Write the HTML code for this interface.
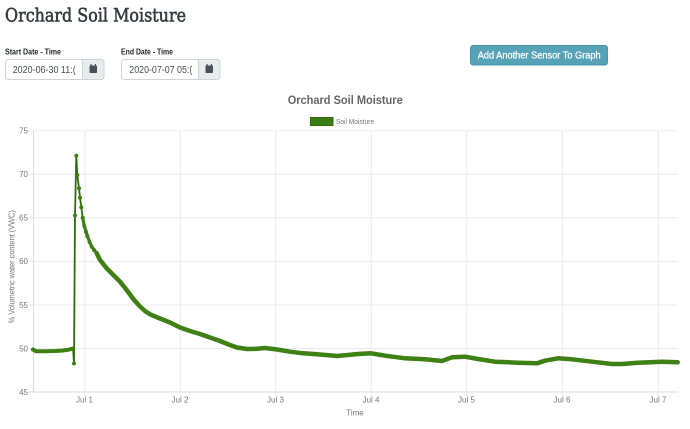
<!DOCTYPE html>
<html><head><meta charset="utf-8"><style>
html,body{margin:0;padding:0;background:#fff;}
svg{display:block;}
</style></head><body>
<svg width="690" height="429" viewBox="0 0 690 429" xmlns="http://www.w3.org/2000/svg">
<rect width="690" height="429" fill="#fff"/>
<!-- header -->
<text x="5" y="21.5" font-family="DejaVu Serif, Liberation Serif, serif" font-size="19" fill="#343a40" stroke="#343a40" stroke-width="0.6" textLength="181" lengthAdjust="spacingAndGlyphs">Orchard Soil Moisture</text>
<text x="5" y="54.5" font-family="Liberation Sans, sans-serif" font-size="8" font-weight="bold" fill="#212529" textLength="56" lengthAdjust="spacingAndGlyphs">Start Date - Time</text>
<text x="121" y="54.5" font-family="Liberation Sans, sans-serif" font-size="8" font-weight="bold" fill="#212529" textLength="52" lengthAdjust="spacingAndGlyphs">End Date - Time</text>
<!-- input 1 -->
<rect x="5.5" y="59.5" width="98.5" height="20" rx="3" fill="#fff" stroke="#ced4da"/>
<path d="M82.5 59.5 H101 a3 3 0 0 1 3 3 V76.5 a3 3 0 0 1 -3 3 H82.5 Z" fill="#e9ecef" stroke="#ced4da"/>
<text x="12.7" y="73" font-family="Liberation Sans, sans-serif" font-size="10" fill="#495057" textLength="63" lengthAdjust="spacingAndGlyphs">2020-06-30 11:(</text>
<g fill="#495057"><rect x="89.5" y="65.5" width="7.5" height="7.5" rx="0.8"/><rect x="90.5" y="64" width="1.2" height="2.5"/><rect x="94.8" y="64" width="1.2" height="2.5"/></g>
<!-- input 2 -->
<rect x="121.5" y="59.5" width="98.5" height="20" rx="3" fill="#fff" stroke="#ced4da"/>
<path d="M198.5 59.5 H217 a3 3 0 0 1 3 3 V76.5 a3 3 0 0 1 -3 3 H198.5 Z" fill="#e9ecef" stroke="#ced4da"/>
<text x="129.3" y="73" font-family="Liberation Sans, sans-serif" font-size="10" fill="#495057" textLength="63" lengthAdjust="spacingAndGlyphs">2020-07-07 05:(</text>
<g fill="#495057"><rect x="205.5" y="65.5" width="7.5" height="7.5" rx="0.8"/><rect x="206.5" y="64" width="1.2" height="2.5"/><rect x="210.8" y="64" width="1.2" height="2.5"/></g>
<!-- button -->
<rect x="470.5" y="45.5" width="137" height="19.5" rx="2.5" fill="#56a2b6" stroke="#4a94a8"/>
<text x="477.7" y="58.5" font-family="Liberation Sans, sans-serif" font-size="10.5" fill="#fff" stroke="#fff" stroke-width="0.25" textLength="123" lengthAdjust="spacingAndGlyphs">Add Another Sensor To Graph</text>

<!-- chart title -->
<text x="287.7" y="104" font-family="Liberation Sans, sans-serif" font-size="12" font-weight="bold" fill="#666" textLength="115" lengthAdjust="spacingAndGlyphs">Orchard Soil Moisture</text>
<!-- legend -->
<rect x="310.5" y="117.5" width="22.5" height="8" fill="#3b7d14" stroke="#2f6a0e" stroke-width="1"/>
<text x="336" y="124" font-family="Liberation Sans, sans-serif" font-size="7.5" fill="#777" textLength="38" lengthAdjust="spacingAndGlyphs">Soil Moisture</text>

<!-- grid -->
<g stroke="#ebebeb" stroke-width="1" fill="none">
<line x1="29" y1="130.7" x2="678" y2="130.7"/>
<line x1="29" y1="174.3" x2="678" y2="174.3"/>
<line x1="29" y1="217.9" x2="678" y2="217.9"/>
<line x1="29" y1="261.4" x2="678" y2="261.4"/>
<line x1="29" y1="305" x2="678" y2="305"/>
<line x1="29" y1="348.5" x2="678" y2="348.5"/>
<line x1="85" y1="130.7" x2="85" y2="396"/>
<line x1="180.3" y1="130.7" x2="180.3" y2="396"/>
<line x1="275.7" y1="130.7" x2="275.7" y2="396"/>
<line x1="371.3" y1="130.7" x2="371.3" y2="396"/>
<line x1="466.7" y1="130.7" x2="466.7" y2="396"/>
<line x1="562.3" y1="130.7" x2="562.3" y2="396"/>
<line x1="658.3" y1="130.7" x2="658.3" y2="396"/>
</g>
<g stroke="#dcdcdc" stroke-width="1">
<line x1="33.5" y1="130.7" x2="33.5" y2="392"/>
<line x1="29" y1="392" x2="678" y2="392"/>
</g>

<!-- y ticks -->
<g font-family="Liberation Sans, sans-serif" font-size="8" fill="#777" text-anchor="end">
<text x="28" y="133.5">75</text>
<text x="28" y="177">70</text>
<text x="28" y="220.7">65</text>
<text x="28" y="264.2">60</text>
<text x="28" y="307.8">55</text>
<text x="28" y="351.3">50</text>
<text x="28" y="394.8">45</text>
</g>
<text transform="translate(14.5,266.7) rotate(-90)" text-anchor="middle" font-family="Liberation Sans, sans-serif" font-size="7.8" fill="#777" textLength="113" lengthAdjust="spacingAndGlyphs">% Volumetric water content (VWC)</text>
<!-- x ticks -->
<g font-family="Liberation Sans, sans-serif" font-size="8" fill="#777" text-anchor="middle">
<text x="84.5" y="402.5">Jul 1</text>
<text x="180" y="402.5">Jul 2</text>
<text x="275.5" y="402.5">Jul 3</text>
<text x="371" y="402.5">Jul 4</text>
<text x="466.5" y="402.5">Jul 5</text>
<text x="562" y="402.5">Jul 6</text>
<text x="658" y="402.5">Jul 7</text>
</g>
<text x="355" y="415.3" text-anchor="middle" font-family="Liberation Sans, sans-serif" font-size="8" fill="#777">Time</text>

<!-- series -->
<g fill="none" stroke-linejoin="round" stroke-linecap="round">
<polyline stroke="#2f6e0c" stroke-width="1.8" points="33,349.5 36,351 45,351 55,350.8 62,350.3 68,349.5 73,348 74,363.5 75,215.5 76.3,155.7 77.3,175 79,188.3 80,197.7 81.3,207.3 82.7,217.7 84.3,226 87.3,236 91.7,246.7"/>
<polyline stroke="#3f8015" stroke-width="4" points="33,349.5 36,351.2 45,351.3 55,351 62,350.6 68,349.8 73,348.5"/>
<polyline stroke="#3f8015" stroke-width="3.2" points="82.7,217.7 84.3,226 87.3,236 91.7,246.7 96.7,253.3 100,260"/>
<polyline stroke="#3f8015" stroke-width="4.5" points="96.7,253.3 100,260 106.7,268.3 113.3,275 120,281.7 126.7,290 133.3,299 140,306.5 145,311 150,314.3 160,318.5 170,322.5 180,327.5 190,331 200,334 210,337.5 220,341 230,345 237,347.5 247,349 257,348.8 265,348 277,349.5 290,351.7 303,353.3 317,354.3 337,356 345,355.3 358,354 371,353.3 385,355.7 405,358.3 425,359.3 442,361 452,357.3 465,356.7 478,359 495,361.7 518,362.7 537,363.3 545,360.7 558,358.3 572,359.3 592,361.7 612,364 622,364 638,362.7 662,361.7 677.7,362.3"/>
</g>
<g fill="#3f8015">
<circle cx="33" cy="349.5" r="2"/>
<circle cx="74" cy="363.5" r="2"/>
<circle cx="75" cy="215.5" r="2"/>
<circle cx="76.3" cy="155.7" r="2"/>
<circle cx="77.3" cy="175" r="2"/>
<circle cx="79" cy="188.3" r="2"/>
<circle cx="80" cy="197.7" r="2"/>
<circle cx="81.3" cy="207.3" r="2"/>
<circle cx="82.7" cy="217.7" r="2"/>
<circle cx="84.3" cy="226" r="2"/>
<circle cx="86" cy="232" r="2"/>
<circle cx="87.3" cy="236" r="2"/>
<circle cx="89.5" cy="242" r="2"/>
<circle cx="91.7" cy="246.7" r="2"/>
<circle cx="94" cy="250" r="2"/>
</g>
</svg>
</body></html>
